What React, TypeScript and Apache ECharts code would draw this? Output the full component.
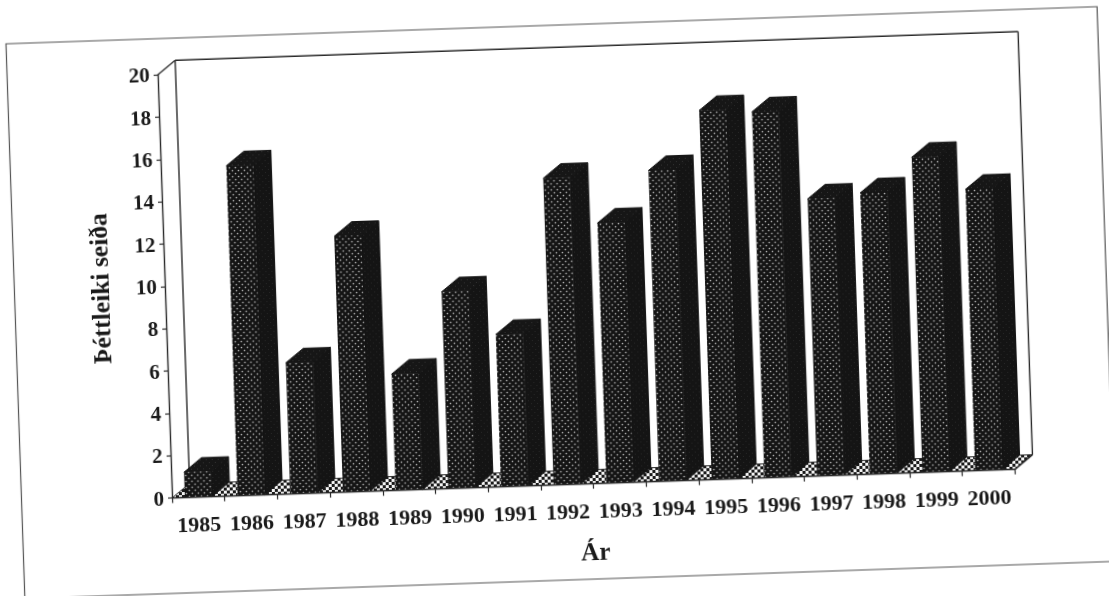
import React, { useEffect, useRef } from "react";
import * as echarts from "echarts";

const years = ["1985","1986","1987","1988","1989","1990","1991","1992","1993","1994","1995","1996","1997","1998","1999","2000"];
const density = [1.2,15.6,6.2,12.1,5.5,9.3,7.2,14.5,12.3,14.7,17.45,17.3,13.1,13.3,14.9,13.3];
const yTitle = "Þéttleiki seiða";
const xTitle = "Ár";

const FONT = "'Liberation Serif', 'Times New Roman', serif";
const INK = "#1a1a1a";
const DX = 18;
const DY = -14;
const BAR_W = 27;

function makePattern(size: number, bg: string, dots: [number, number, number, string][]) {
  const c = document.createElement("canvas");
  c.width = size;
  c.height = size;
  const g = c.getContext("2d")!;
  g.fillStyle = bg;
  g.fillRect(0, 0, size, size);
  for (const [x, y, r, col] of dots) {
    g.fillStyle = col;
    g.beginPath();
    g.arc(x, y, r, 0, Math.PI * 2);
    g.fill();
  }
  return { image: c, repeat: "repeat", imageWidth: size, imageHeight: size } as any;
}

function makeChecker() {
  const c = document.createElement("canvas");
  c.width = 6;
  c.height = 6;
  const g = c.getContext("2d")!;
  g.fillStyle = "#f4f4f4";
  g.fillRect(0, 0, 6, 6);
  g.fillStyle = "#1a1a1a";
  g.fillRect(0, 0, 3, 3);
  g.fillRect(3, 3, 3, 3);
  return { image: c, repeat: "repeat", imageWidth: 6, imageHeight: 6 } as any;
}

export default function App() {
  const ref = useRef<HTMLDivElement>(null);
  useEffect(() => {
    const chart = echarts.init(ref.current!, undefined, { renderer: "svg" });
    const frontFill = makePattern(6, "#141414", [[1.5, 1.5, 0.85, "#b4b4b4"], [4.5, 4.5, 0.85, "#b4b4b4"]]);
    const topFill = makePattern(6, "#161616", [[1.5, 1.5, 0.5, "#3c3c3c"], [4.5, 4.5, 0.5, "#3c3c3c"]]);
    const sideFill = makePattern(6, "#141414", [[1.5, 1.5, 0.5, "#2e2e2e"], [4.5, 4.5, 0.5, "#2e2e2e"]]);
    const floorFill = makeChecker();
    const line = (x1: number, y1: number, x2: number, y2: number) => ({
      type: "line",
      shape: { x1, y1, x2, y2 },
      style: { stroke: "#2a2a2a", lineWidth: 1.4 },
    });
    chart.setOption({
      animation: false,
      backgroundColor: "#ffffff",
      graphic: [
        {
          type: "rect",
          shape: { x: 4.5, y: 44, width: 1091.7, height: 555 },
          style: { fill: "none", stroke: "#555555", lineWidth: 1.2 },
          silent: true,
          z: 0,
        },
      ],
      grid: { left: 155, top: 80.3, width: 843.4, height: 423.3, containLabel: false },
      xAxis: {
        type: "category",
        data: years,
        boundaryGap: true,
        z: 5,
        name: xTitle,
        nameLocation: "middle",
        nameGap: 55,
        nameTextStyle: { fontFamily: FONT, fontWeight: "bold", fontSize: 25, color: INK },
        axisLine: { show: true, lineStyle: { color: "#2a2a2a", width: 1.4 } },
        axisTick: { show: true, length: 5, lineStyle: { color: "#2a2a2a", width: 1.2 } },
        axisLabel: { interval: 0, margin: 16, fontFamily: FONT, fontWeight: "bold", fontSize: 22, color: INK },
        splitLine: { show: false },
      },
      yAxis: {
        type: "value",
        min: 0,
        max: 20,
        interval: 2,
        z: 5,
        name: yTitle,
        nameLocation: "middle",
        nameRotate: 90,
        nameGap: 52,
        nameTextStyle: { fontFamily: FONT, fontWeight: "bold", fontSize: 25.5, color: INK },
        axisLine: { show: true, lineStyle: { color: "#2a2a2a", width: 1.4 } },
        axisTick: { show: true, length: 4, lineStyle: { color: "#2a2a2a", width: 1.2 } },
        axisLabel: { margin: 8, fontFamily: FONT, fontWeight: "bold", fontSize: 21, color: INK },
        splitLine: { show: false },
      },
      series: [
        {
          type: "custom",
          name: "walls",
          z: 1,
          clip: false,
          silent: true,
          data: [[0, 0]],
          encode: { x: 0, y: 1 },
          renderItem: (params: any) => {
            const { x, y, width: w, height: h } = params.coordSys;
            const b = y + h;
            const r = x + w;
            return {
              type: "group",
              children: [
                {
                  type: "polygon",
                  shape: { points: [[x, b], [r, b], [r + DX, b + DY], [x + DX, b + DY]] },
                  style: { fill: floorFill, stroke: "#2a2a2a", lineWidth: 1 },
                },
                line(x, y, x + DX, y + DY),
                line(x + DX, y + DY, x + DX, b + DY),
                line(x + DX, y + DY, r + DX, y + DY),
                line(r + DX, y + DY, r + DX, b + DY),
                line(r, b, r + DX, b + DY),
              ],
            };
          },
        },
        {
          type: "custom",
          name: yTitle,
          z: 2,
          clip: false,
          data: density.map((v, i) => [i, v]),
          encode: { x: 0, y: 1 },
          renderItem: (_params: any, api: any) => {
            const top = api.coord([api.value(0), api.value(1)]);
            const base = api.coord([api.value(0), 0]);
            const l = top[0] - BAR_W / 2;
            const r = top[0] + BAR_W / 2;
            const t = top[1];
            const b = base[1];
            return {
              type: "group",
              children: [
                { type: "polygon", shape: { points: [[r, t], [r + DX, t + DY], [r + DX, b + DY], [r, b]] }, style: { fill: sideFill, stroke: "#141414", lineWidth: 1 } },
                { type: "polygon", shape: { points: [[l, t], [l + DX, t + DY], [r + DX, t + DY], [r, t]] }, style: { fill: topFill, stroke: "#141414", lineWidth: 1 } },
                { type: "polygon", shape: { points: [[l, t], [r, t], [r, b], [l, b]] }, style: { fill: frontFill } },
              ],
            };
          },
        },
      ],
    });
    return () => chart.dispose();
  }, []);
  return (
    <div style={{ position: "fixed", left: 0, top: 0, width: 1109, height: 596, overflow: "hidden", background: "#fff" }}>
      <div
        ref={ref}
        style={{
          width: 1180,
          height: 660,
          transform: "rotate(-1.95deg)",
          transformOrigin: "0 0",
          filter: "blur(0.4px)",
        }}
      />
    </div>
  );
}
